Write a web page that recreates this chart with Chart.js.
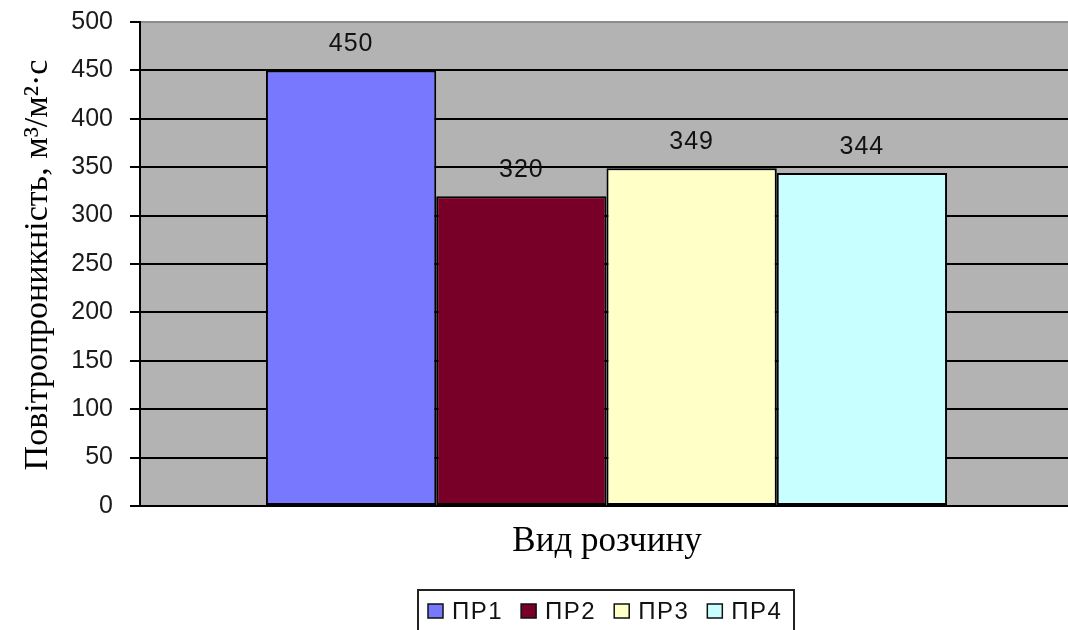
<!DOCTYPE html>
<html>
<head>
<meta charset="utf-8">
<script src="https://cdn.jsdelivr.net/npm/chart.js@4/dist/chart.umd.min.js"></script>
<style>
  html, body { margin: 0; padding: 0; background: #fff; overflow: hidden; }
  #wrap { width: 1068px; height: 630px; overflow: hidden; }
  canvas { display: block; }
</style>
</head>
<body>
<div id="wrap"><canvas id="c" width="1074" height="630"></canvas></div>
<script>
// Air permeability of mortar types
const categories = [''];
const seriesNames = ['ПР1', 'ПР2', 'ПР3', 'ПР4'];
const seriesValues = [450, 320, 349, 344];
const seriesColors = ['#7878ff', '#780028', '#ffffc8', '#c8ffff'];
const yTicks = [0, 50, 100, 150, 200, 250, 300, 350, 400, 450, 500];

const xTitle = 'Вид розчину';
const yTitle = 'Повітропроникність, м³/м²·с';

const sansFont = '"Liberation Sans", Arial, sans-serif';
const serifFont = '"Liberation Serif", "Times New Roman", serif';

// Plot area background
const plotBackground = {
  id: 'plotBackground',
  beforeDraw(chart) {
    const { ctx, chartArea: a } = chart;
    ctx.save();
    ctx.fillStyle = '#b3b3b3';
    ctx.fillRect(a.left, a.top, a.right - a.left, a.bottom - a.top);
    ctx.restore();
  }
};

// Value labels above each bar, axis titles and a framed legend
const annotations = {
  id: 'annotations',
  afterDatasetsDraw(chart) {
    const { ctx } = chart;
    ctx.save();
    ctx.fillStyle = '#111';
    ctx.font = '25px ' + sansFont;
    ctx.letterSpacing = '1px';
    ctx.textAlign = 'center';
    ctx.textBaseline = 'middle';
    chart.data.datasets.forEach((ds, i) => {
      const bar = chart.getDatasetMeta(i).data[0];
      ctx.fillText(String(ds.data[0]), bar.x, bar.y - 26);
    });

    // axis titles
    ctx.letterSpacing = '0px';
    ctx.fillStyle = '#000';
    ctx.font = '35px ' + serifFont;
    ctx.textBaseline = 'middle';
    ctx.fillText(xTitle, 607, 542);
    ctx.font = '34px ' + serifFont;
    ctx.save();
    ctx.translate(38, 265);
    ctx.rotate(-Math.PI / 2);
    ctx.fillText(yTitle, 0, 0);
    ctx.restore();

    // legend
    ctx.lineWidth = 2;
    ctx.strokeStyle = '#222';
    ctx.strokeRect(418, 590, 376, 50);
    ctx.font = '24px ' + sansFont;
    ctx.letterSpacing = '1.5px';
    ctx.textAlign = 'left';
    let x = 428;
    chart.data.datasets.forEach(ds => {
      ctx.fillStyle = ds.backgroundColor;
      ctx.fillRect(x, 604, 15, 14);
      ctx.lineWidth = 1.5;
      ctx.strokeStyle = '#111';
      ctx.strokeRect(x, 604, 15, 14);
      ctx.fillStyle = '#111';
      ctx.fillText(ds.label, x + 24, 612);
      x += 24 + ctx.measureText(ds.label).width + 18;
    });
    ctx.restore();
  }
};

const datasets = seriesNames.map((name, i) => ({
  label: name,
  data: [seriesValues[i]],
  backgroundColor: seriesColors[i],
  borderColor: '#000',
  borderWidth: 2,
  borderSkipped: false,
  barPercentage: 1,
  categoryPercentage: 0.73
}));

new Chart(document.getElementById('c'), {
  type: 'bar',
  data: { labels: categories, datasets },
  options: {
    responsive: false,
    animation: false,
    events: [],
    layout: { padding: { left: 40, top: 22, right: 1, bottom: 0 } },
    plugins: { legend: { display: false }, tooltip: { enabled: false } },
    scales: {
      x: {
        grid: { display: false },
        border: { display: false },
        ticks: { display: false },
        afterFit: s => { s.height = 124; }
      },
      y: {
        min: 0,
        max: 500,
        afterBuildTicks: s => { s.ticks = yTicks.map(v => ({ value: v })); },
        afterFit: s => {
          s.width = 100;
          s.paddingTop = 0;
          s.paddingBottom = 0;
        },
        ticks: {
          color: '#1a1a1a',
          padding: 17,
          font: { family: sansFont, size: 25 }
        },
        grid: {
          color: c => (c.tick && c.tick.value === 500 ? '#8c8c8c' : '#000'),
          tickColor: '#000',
          lineWidth: 2,
          tickLength: 10
        },
        border: { color: '#000', width: 2 }
      }
    }
  },
  plugins: [plotBackground, annotations]
});
</script>
</body>
</html>
